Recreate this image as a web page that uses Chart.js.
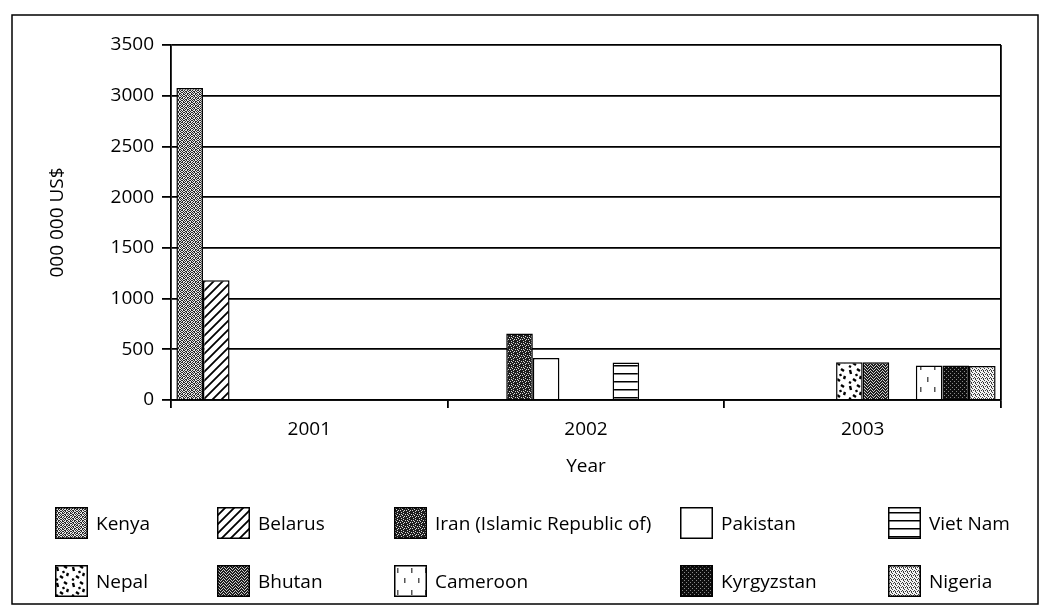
<!DOCTYPE html>
<html><head><meta charset="utf-8">
<script src="https://cdn.jsdelivr.net/npm/chart.js@4.4.1/dist/chart.umd.min.js"></script>
<style>
html,body{margin:0;padding:0;background:#fff;}
#wrap{position:relative;width:1041px;height:605px;overflow:hidden;}
#c{position:absolute;left:0;top:0;}
.lg{position:absolute;display:flex;align-items:center;height:32px;font-family:"Open Sans",sans-serif;font-size:19px;color:#000;white-space:nowrap;}
.lg canvas{display:block;margin-right:8px;}
</style></head><body>
<div id="wrap"><canvas id="c" width="1041" height="605"></canvas></div>
<script>
// ---- data ----
const years = ['2001', '2002', '2003'];
const kenya      = [3075, null, null];
const belarus    = [1180, null, null];
const iran       = [null, 655, null];
const pakistan   = [null, 415, null];
const vietNam    = [null, 370, null];
const nepal      = [null, null, 372];
const bhutan     = [null, null, 372];
const cameroon   = [null, null, 340];
const kyrgyzstan = [null, null, 340];
const nigeria    = [null, null, 335];
const yTicks = [0, 500, 1000, 1500, 2000, 2500, 3000, 3500];
const legendRow1 = ['Kenya', 'Belarus', 'Iran (Islamic Republic of)', 'Pakistan', 'Viet Nam'];
const legendRow2 = ['Nepal', 'Bhutan', 'Cameroon', 'Kyrgyzstan', 'Nigeria'];

// ---- patterns ----
const pctx = document.createElement('canvas').getContext('2d');
function matrixPattern(rows, dark, light) {
  const c = document.createElement('canvas');
  c.width = rows[0].length; c.height = rows.length;
  const x = c.getContext('2d');
  for (let j = 0; j < rows.length; j++) for (let i = 0; i < rows[j].length; i++) {
    x.fillStyle = rows[j][i] === '1' ? dark : light; x.fillRect(i, j, 1, 1);
  }
  return pctx.createPattern(c, 'repeat');
}
function drawnPattern(w, h, fn) {
  const c = document.createElement('canvas'); c.width = w; c.height = h;
  const x = c.getContext('2d'); x.fillStyle = '#fff'; x.fillRect(0, 0, w, h);
  fn(x); return pctx.createPattern(c, 'repeat');
}
const patterns = {
  'Kenya': matrixPattern(['10100101','01011010','10010110','01101001','10100110','01011001','10010101','01101010'], '#2a2a2a', '#e6e6e6'),
  'Belarus': drawnPattern(9, 9, x => { x.strokeStyle = '#000'; x.lineWidth = 1.8;
    x.beginPath(); x.moveTo(-1, 10); x.lineTo(10, -1); x.moveTo(-1, 1); x.lineTo(1, -1); x.moveTo(8, 10); x.lineTo(10, 8); x.stroke(); }),
  'Iran (Islamic Republic of)': matrixPattern(['111011','101110','110111','011101','111011','101111'], '#1e1e1e', '#d8d8d8'),
  'Pakistan': '#ffffff',
  'Viet Nam': drawnPattern(8, 8, x => { x.fillStyle = '#000'; x.fillRect(0, 5, 8, 1.5); }),
  'Nepal': drawnPattern(16, 16, x => { x.strokeStyle = '#000'; x.lineWidth = 2.4; x.beginPath();
    x.moveTo(2, 2); x.lineTo(3, 6); x.moveTo(9, 1); x.lineTo(12, 3); x.moveTo(13, 8); x.lineTo(12, 11);
    x.moveTo(5, 11); x.lineTo(8, 13); x.moveTo(1, 14); x.lineTo(3, 15); x.moveTo(8, 6); x.lineTo(9, 8); x.stroke(); }),
  'Bhutan': matrixPattern(['110101','011011','101110','110101','011011','101110'], '#1e1e1e', '#cfcfcf'),
  'Cameroon': drawnPattern(14, 22, x => { x.fillStyle = '#555'; x.fillRect(3, 3, 1.5, 5); x.fillRect(10, 13, 1.5, 5); }),
  'Kyrgyzstan': matrixPattern(['1111','1101','1111','0111'], '#0e0e0e', '#8a8a8a'),
  'Nigeria': matrixPattern(['1000','0010','0101','0001'], '#3a3a3a', '#f2f2f2')
};

// dataset order defines the slot each bar sits in within a year group
const series = [
  ['Kenya', kenya], ['Belarus', belarus], ['Iran (Islamic Republic of)', iran], ['Pakistan', pakistan],
  ['Nepal', nepal], ['Bhutan', bhutan], ['Viet Nam', vietNam], ['Cameroon', cameroon],
  ['Kyrgyzstan', kyrgyzstan], ['Nigeria', nigeria]
];

Chart.defaults.font.family = '"Open Sans", sans-serif';
Chart.defaults.font.size = 19;
Chart.defaults.color = '#000';

const framePlugin = {
  id: 'frame',
  beforeDraw(chart) {
    const ctx = chart.ctx; ctx.save();
    ctx.fillStyle = '#fff'; ctx.fillRect(0, 0, chart.width, chart.height);
    ctx.strokeStyle = '#000'; ctx.lineWidth = 1.5;
    ctx.strokeRect(12, 15, 1026, 589);
    ctx.restore();
  }
};

new Chart(document.getElementById('c'), {
  type: 'bar',
  data: {
    labels: years,
    datasets: series.map(([name, vals]) => ({
      label: name, data: vals, backgroundColor: patterns[name],
      borderColor: '#000', borderWidth: 1.5,
      categoryPercentage: 0.961, barPercentage: 1.0
    }))
  },
  options: {
    responsive: false, animation: false, devicePixelRatio: 1,
    layout: { padding: { left: 0, right: 40, top: 45, bottom: 120 } },
    plugins: { legend: { display: false }, tooltip: { enabled: false } },
    scales: {
      x: {
        offset: true,
        grid: { offset: true, color: c => c.type === 'scale' ? '#000' : 'rgba(0,0,0,0)', lineWidth: 1.8,
                tickLength: 8, tickColor: '#000', tickWidth: 1.8 },
        border: { color: '#000', width: 1.8 },
        ticks: { color: '#000', padding: 10, font: { size: 19 } },
        title: { display: true, text: 'Year', color: '#000', font: { size: 19 }, padding: { top: 0, bottom: 7 } },
        afterFit: s => { s.height = 85; }
      },
      y: {
        min: 0, max: 3500,
        afterBuildTicks: s => { s.ticks = yTicks.map(v => ({ value: v })); },
        grid: { color: '#000', lineWidth: 1.8, tickLength: 9, tickColor: '#000' },
        border: { color: '#000', width: 1.8 },
        ticks: { color: '#000', padding: 8, font: { size: 19 }, callback: v => String(v) },
        title: { display: true, text: '000 000 US$', color: '#000', font: { size: 19 }, padding: { top: 46, bottom: 0 } },
        afterFit: s => { s.width = 171; }
      }
    }
  },
  plugins: [framePlugin]
});

// ---- legend (HTML, built from the same names/patterns) ----
const colX = [55, 217, 394, 680, 888];
const rowY = [507, 565];
const wrap = document.getElementById('wrap');
[legendRow1, legendRow2].forEach((row, r) => row.forEach((name, i) => {
  const d = document.createElement('div'); d.className = 'lg';
  d.style.left = colX[i] + 'px'; d.style.top = rowY[r] + 'px';
  const cv = document.createElement('canvas'); cv.width = 33; cv.height = 32;
  const x = cv.getContext('2d'); x.fillStyle = patterns[name]; x.fillRect(0, 0, 33, 32);
  x.strokeStyle = '#000'; x.lineWidth = 1.5; x.strokeRect(0.75, 0.75, 31.5, 30.5);
  d.appendChild(cv);
  const s = document.createElement('span'); s.textContent = name; d.appendChild(s);
  wrap.appendChild(d);
}));
</script>
</body></html>
